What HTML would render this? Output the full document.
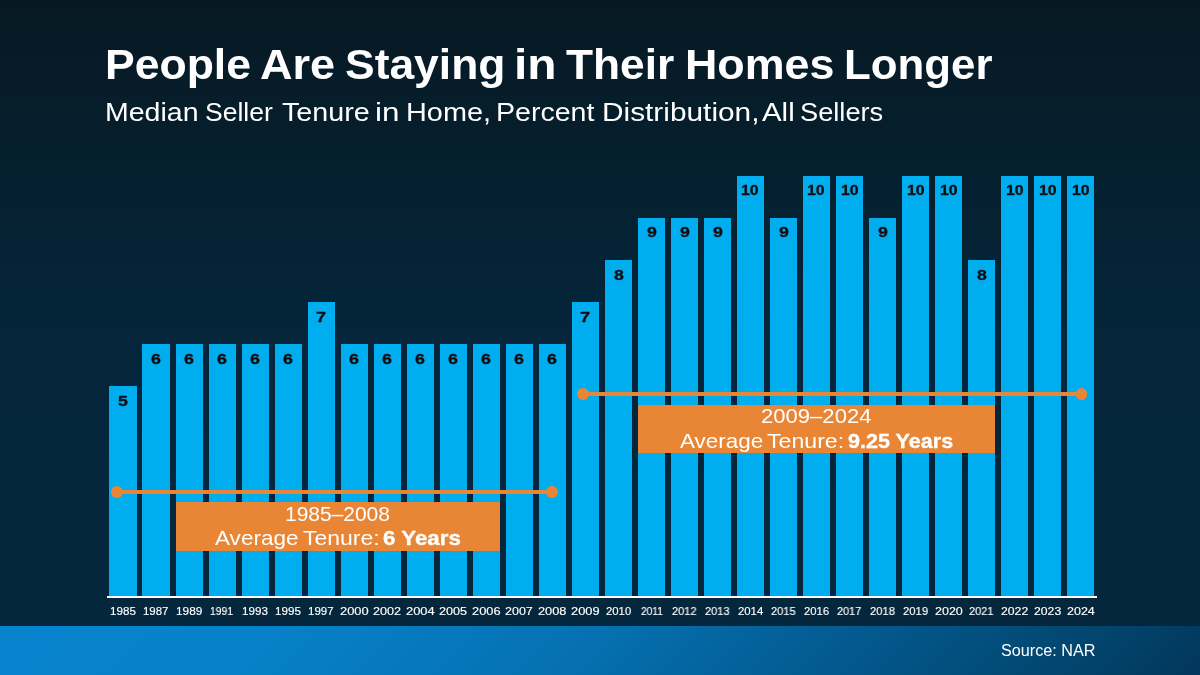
<!DOCTYPE html>
<html lang="en">
<head>
<meta charset="utf-8">
<title>People Are Staying in Their Homes Longer</title>
<style>
html,body{margin:0;padding:0;}
body{width:1200px;height:675px;overflow:hidden;position:relative;
  font-family:"Liberation Sans",sans-serif;
  background:linear-gradient(180deg,#061923 0%,#061e2c 19%,#052233 33%,#04253a 49%,#04273e 75%,#04273f 100%);}
.t{position:absolute;white-space:nowrap;line-height:1;transform-origin:0 0;display:block;will-change:transform;}
h1,p{margin:0;font-size:inherit;font-weight:inherit;}
.bar{position:absolute;background:#00adee;}
.axis{position:absolute;left:107px;top:596px;width:990px;height:2px;background:#fff;}
.ln{position:absolute;height:4px;background:#e98636;}
.dot{position:absolute;width:11.8px;height:11.8px;border-radius:50%;background:#e98636;}
.box{position:absolute;background:#e98636;}
.footer{position:absolute;left:0;top:626px;width:1200px;height:49px;
  background:linear-gradient(135deg,#0783cd 0%,#0781c9 22%,#0571b2 48%,#03598e 70%,#02466f 88%,#03365a 100%);}
</style>
</head>
<body>
<h1><span class="t" style="left:104.86px;top:43.30px;font-size:42.59px;font-weight:700;color:#fff;transform:scaleX(1.0459);">People</span> <span class="t" style="left:260.12px;top:43.30px;font-size:42.59px;font-weight:700;color:#fff;transform:scaleX(1.0576);">Are</span> <span class="t" style="left:345.49px;top:43.30px;font-size:42.59px;font-weight:700;color:#fff;transform:scaleX(1.0432);">Staying</span> <span class="t" style="left:514.33px;top:43.30px;font-size:42.59px;font-weight:700;color:#fff;transform:scaleX(1.1250);">in</span> <span class="t" style="left:566.36px;top:43.30px;font-size:42.59px;font-weight:700;color:#fff;transform:scaleX(1.0402);">Their</span> <span class="t" style="left:684.84px;top:43.30px;font-size:42.59px;font-weight:700;color:#fff;transform:scaleX(1.0526);">Homes</span> <span class="t" style="left:843.81px;top:43.30px;font-size:42.59px;font-weight:700;color:#fff;transform:scaleX(1.0290);">Longer</span></h1>
<p><span class="t" style="left:105.18px;top:99.80px;font-size:25.58px;font-weight:400;color:#fff;transform:scaleX(1.1146);">Median</span> <span class="t" style="left:205.14px;top:99.80px;font-size:25.58px;font-weight:400;color:#fff;transform:scaleX(1.0363);">Seller</span> <span class="t" style="left:281.92px;top:99.80px;font-size:25.58px;font-weight:400;color:#fff;transform:scaleX(1.1218);">Tenure</span> <span class="t" style="left:375.47px;top:99.80px;font-size:25.58px;font-weight:400;color:#fff;transform:scaleX(1.2260);">in</span> <span class="t" style="left:405.96px;top:99.80px;font-size:25.58px;font-weight:400;color:#fff;transform:scaleX(1.1280);">Home,</span> <span class="t" style="left:495.98px;top:99.80px;font-size:25.58px;font-weight:400;color:#fff;transform:scaleX(1.1161);">Percent</span> <span class="t" style="left:601.78px;top:99.80px;font-size:25.58px;font-weight:400;color:#fff;transform:scaleX(1.1662);">Distribution,</span> <span class="t" style="left:762.26px;top:99.80px;font-size:25.58px;font-weight:400;color:#fff;transform:scaleX(1.1490);">All</span> <span class="t" style="left:799.70px;top:99.80px;font-size:25.58px;font-weight:400;color:#fff;transform:scaleX(1.0642);">Sellers</span></p>
<div class="chart">
<div class="bar" style="left:109px;top:386px;width:28px;height:210px"></div><div class="bar" style="left:142px;top:344px;width:28px;height:252px"></div><div class="bar" style="left:176px;top:344px;width:27px;height:252px"></div><div class="bar" style="left:209px;top:344px;width:27px;height:252px"></div><div class="bar" style="left:242px;top:344px;width:27px;height:252px"></div><div class="bar" style="left:275px;top:344px;width:27px;height:252px"></div><div class="bar" style="left:308px;top:302px;width:27px;height:294px"></div><div class="bar" style="left:341px;top:344px;width:27px;height:252px"></div><div class="bar" style="left:374px;top:344px;width:27px;height:252px"></div><div class="bar" style="left:407px;top:344px;width:27px;height:252px"></div><div class="bar" style="left:440px;top:344px;width:27px;height:252px"></div><div class="bar" style="left:473px;top:344px;width:27px;height:252px"></div><div class="bar" style="left:506px;top:344px;width:27px;height:252px"></div><div class="bar" style="left:539px;top:344px;width:27px;height:252px"></div><div class="bar" style="left:572px;top:302px;width:27px;height:294px"></div><div class="bar" style="left:605px;top:260px;width:27px;height:336px"></div><div class="bar" style="left:638px;top:218px;width:27px;height:378px"></div><div class="bar" style="left:671px;top:218px;width:27px;height:378px"></div><div class="bar" style="left:704px;top:218px;width:27px;height:378px"></div><div class="bar" style="left:737px;top:176px;width:27px;height:420px"></div><div class="bar" style="left:770px;top:218px;width:27px;height:378px"></div><div class="bar" style="left:803px;top:176px;width:27px;height:420px"></div><div class="bar" style="left:836px;top:176px;width:27px;height:420px"></div><div class="bar" style="left:869px;top:218px;width:27px;height:378px"></div><div class="bar" style="left:902px;top:176px;width:27px;height:420px"></div><div class="bar" style="left:935px;top:176px;width:27px;height:420px"></div><div class="bar" style="left:968px;top:260px;width:27px;height:336px"></div><div class="bar" style="left:1001px;top:176px;width:27px;height:420px"></div><div class="bar" style="left:1034px;top:176px;width:27px;height:420px"></div><div class="bar" style="left:1067px;top:176px;width:27px;height:420px"></div>
<div class="axis"></div>
<div class="values"><span class="t" style="left:118.09px;top:392.80px;font-size:15.26px;font-weight:700;color:#150d10;transform:scaleX(1.1646);-webkit-text-stroke:0.3px currentColor;">5</span> <span class="t" style="left:151.20px;top:350.80px;font-size:15.26px;font-weight:700;color:#150d10;transform:scaleX(1.1677);-webkit-text-stroke:0.3px currentColor;">6</span> <span class="t" style="left:184.22px;top:350.80px;font-size:15.26px;font-weight:700;color:#150d10;transform:scaleX(1.1677);-webkit-text-stroke:0.3px currentColor;">6</span> <span class="t" style="left:217.24px;top:350.80px;font-size:15.26px;font-weight:700;color:#150d10;transform:scaleX(1.1677);-webkit-text-stroke:0.3px currentColor;">6</span> <span class="t" style="left:250.26px;top:350.80px;font-size:15.26px;font-weight:700;color:#150d10;transform:scaleX(1.1677);-webkit-text-stroke:0.3px currentColor;">6</span> <span class="t" style="left:283.28px;top:350.80px;font-size:15.26px;font-weight:700;color:#150d10;transform:scaleX(1.1677);-webkit-text-stroke:0.3px currentColor;">6</span> <span class="t" style="left:316.22px;top:308.80px;font-size:15.26px;font-weight:700;color:#150d10;transform:scaleX(1.1860);-webkit-text-stroke:0.3px currentColor;">7</span> <span class="t" style="left:349.32px;top:350.80px;font-size:15.26px;font-weight:700;color:#150d10;transform:scaleX(1.1677);-webkit-text-stroke:0.3px currentColor;">6</span> <span class="t" style="left:382.34px;top:350.80px;font-size:15.26px;font-weight:700;color:#150d10;transform:scaleX(1.1677);-webkit-text-stroke:0.3px currentColor;">6</span> <span class="t" style="left:415.36px;top:350.80px;font-size:15.26px;font-weight:700;color:#150d10;transform:scaleX(1.1677);-webkit-text-stroke:0.3px currentColor;">6</span> <span class="t" style="left:448.38px;top:350.80px;font-size:15.26px;font-weight:700;color:#150d10;transform:scaleX(1.1677);-webkit-text-stroke:0.3px currentColor;">6</span> <span class="t" style="left:481.40px;top:350.80px;font-size:15.26px;font-weight:700;color:#150d10;transform:scaleX(1.1677);-webkit-text-stroke:0.3px currentColor;">6</span> <span class="t" style="left:514.42px;top:350.80px;font-size:15.26px;font-weight:700;color:#150d10;transform:scaleX(1.1677);-webkit-text-stroke:0.3px currentColor;">6</span> <span class="t" style="left:547.44px;top:350.80px;font-size:15.26px;font-weight:700;color:#150d10;transform:scaleX(1.1677);-webkit-text-stroke:0.3px currentColor;">6</span> <span class="t" style="left:580.38px;top:308.80px;font-size:15.26px;font-weight:700;color:#150d10;transform:scaleX(1.1860);-webkit-text-stroke:0.3px currentColor;">7</span> <span class="t" style="left:613.50px;top:266.80px;font-size:15.26px;font-weight:700;color:#150d10;transform:scaleX(1.1615);-webkit-text-stroke:0.3px currentColor;">8</span> <span class="t" style="left:646.51px;top:224.40px;font-size:15.26px;font-weight:700;color:#150d10;transform:scaleX(1.1659);-webkit-text-stroke:0.3px currentColor;">9</span> <span class="t" style="left:679.53px;top:224.40px;font-size:15.26px;font-weight:700;color:#150d10;transform:scaleX(1.1659);-webkit-text-stroke:0.3px currentColor;">9</span> <span class="t" style="left:712.55px;top:224.40px;font-size:15.26px;font-weight:700;color:#150d10;transform:scaleX(1.1659);-webkit-text-stroke:0.3px currentColor;">9</span> <span class="t" style="left:741.44px;top:181.80px;font-size:15.26px;font-weight:700;color:#150d10;transform:scaleX(1.0408);-webkit-text-stroke:0.3px currentColor;">10</span> <span class="t" style="left:778.59px;top:224.40px;font-size:15.26px;font-weight:700;color:#150d10;transform:scaleX(1.1659);-webkit-text-stroke:0.3px currentColor;">9</span> <span class="t" style="left:807.48px;top:181.80px;font-size:15.26px;font-weight:700;color:#150d10;transform:scaleX(1.0408);-webkit-text-stroke:0.3px currentColor;">10</span> <span class="t" style="left:840.50px;top:181.80px;font-size:15.26px;font-weight:700;color:#150d10;transform:scaleX(1.0408);-webkit-text-stroke:0.3px currentColor;">10</span> <span class="t" style="left:877.65px;top:224.40px;font-size:15.26px;font-weight:700;color:#150d10;transform:scaleX(1.1659);-webkit-text-stroke:0.3px currentColor;">9</span> <span class="t" style="left:906.54px;top:181.80px;font-size:15.26px;font-weight:700;color:#150d10;transform:scaleX(1.0408);-webkit-text-stroke:0.3px currentColor;">10</span> <span class="t" style="left:939.56px;top:181.80px;font-size:15.26px;font-weight:700;color:#150d10;transform:scaleX(1.0408);-webkit-text-stroke:0.3px currentColor;">10</span> <span class="t" style="left:976.72px;top:266.80px;font-size:15.26px;font-weight:700;color:#150d10;transform:scaleX(1.1615);-webkit-text-stroke:0.3px currentColor;">8</span> <span class="t" style="left:1005.60px;top:181.80px;font-size:15.26px;font-weight:700;color:#150d10;transform:scaleX(1.0408);-webkit-text-stroke:0.3px currentColor;">10</span> <span class="t" style="left:1038.62px;top:181.80px;font-size:15.26px;font-weight:700;color:#150d10;transform:scaleX(1.0408);-webkit-text-stroke:0.3px currentColor;">10</span> <span class="t" style="left:1071.64px;top:181.80px;font-size:15.26px;font-weight:700;color:#150d10;transform:scaleX(1.0408);-webkit-text-stroke:0.3px currentColor;">10</span></div>
<div class="years"><span class="t" style="left:109.76px;top:606.10px;font-size:11.34px;font-weight:400;color:#fff;transform:scaleX(1.0253);-webkit-text-stroke:0.15px currentColor;">1985</span> <span class="t" style="left:143.00px;top:606.10px;font-size:11.34px;font-weight:400;color:#fff;transform:scaleX(1.0108);-webkit-text-stroke:0.15px currentColor;">1987</span> <span class="t" style="left:175.58px;top:606.10px;font-size:11.34px;font-weight:400;color:#fff;transform:scaleX(1.0443);-webkit-text-stroke:0.15px currentColor;">1989</span> <span class="t" style="left:210.36px;top:606.10px;font-size:11.34px;font-weight:400;color:#fff;transform:scaleX(0.9142);-webkit-text-stroke:0.15px currentColor;">1991</span> <span class="t" style="left:241.84px;top:606.10px;font-size:11.34px;font-weight:400;color:#fff;transform:scaleX(1.0266);-webkit-text-stroke:0.15px currentColor;">1993</span> <span class="t" style="left:274.81px;top:606.10px;font-size:11.34px;font-weight:400;color:#fff;transform:scaleX(1.0295);-webkit-text-stroke:0.15px currentColor;">1995</span> <span class="t" style="left:308.04px;top:606.10px;font-size:11.34px;font-weight:400;color:#fff;transform:scaleX(1.0151);-webkit-text-stroke:0.15px currentColor;">1997</span> <span class="t" style="left:339.86px;top:606.10px;font-size:11.34px;font-weight:400;color:#fff;transform:scaleX(1.1348);-webkit-text-stroke:0.15px currentColor;">2000</span> <span class="t" style="left:373.29px;top:606.10px;font-size:11.34px;font-weight:400;color:#fff;transform:scaleX(1.1125);-webkit-text-stroke:0.15px currentColor;">2002</span> <span class="t" style="left:405.80px;top:606.10px;font-size:11.34px;font-weight:400;color:#fff;transform:scaleX(1.1366);-webkit-text-stroke:0.15px currentColor;">2004</span> <span class="t" style="left:439.18px;top:606.10px;font-size:11.34px;font-weight:400;color:#fff;transform:scaleX(1.1153);-webkit-text-stroke:0.15px currentColor;">2005</span> <span class="t" style="left:471.99px;top:606.10px;font-size:11.34px;font-weight:400;color:#fff;transform:scaleX(1.1332);-webkit-text-stroke:0.15px currentColor;">2006</span> <span class="t" style="left:505.42px;top:606.10px;font-size:11.34px;font-weight:400;color:#fff;transform:scaleX(1.1015);-webkit-text-stroke:0.15px currentColor;">2007</span> <span class="t" style="left:538.08px;top:606.10px;font-size:11.34px;font-weight:400;color:#fff;transform:scaleX(1.1282);-webkit-text-stroke:0.15px currentColor;">2008</span> <span class="t" style="left:571.05px;top:606.10px;font-size:11.34px;font-weight:400;color:#fff;transform:scaleX(1.1340);-webkit-text-stroke:0.15px currentColor;">2009</span> <span class="t" style="left:605.79px;top:606.10px;font-size:11.34px;font-weight:400;color:#fff;transform:scaleX(0.9950);-webkit-text-stroke:0.15px currentColor;">2010</span> <span class="t" style="left:640.56px;top:606.10px;font-size:11.34px;font-weight:400;color:#fff;transform:scaleX(0.9004);-webkit-text-stroke:0.15px currentColor;">2011</span> <span class="t" style="left:672.24px;top:606.10px;font-size:11.34px;font-weight:400;color:#fff;transform:scaleX(0.9713);-webkit-text-stroke:0.15px currentColor;">2012</span> <span class="t" style="left:705.16px;top:606.10px;font-size:11.34px;font-weight:400;color:#fff;transform:scaleX(0.9725);-webkit-text-stroke:0.15px currentColor;">2013</span> <span class="t" style="left:737.77px;top:606.10px;font-size:11.34px;font-weight:400;color:#fff;transform:scaleX(0.9976);-webkit-text-stroke:0.15px currentColor;">2014</span> <span class="t" style="left:771.15px;top:606.10px;font-size:11.34px;font-weight:400;color:#fff;transform:scaleX(0.9754);-webkit-text-stroke:0.15px currentColor;">2015</span> <span class="t" style="left:803.96px;top:606.10px;font-size:11.34px;font-weight:400;color:#fff;transform:scaleX(0.9931);-webkit-text-stroke:0.15px currentColor;">2016</span> <span class="t" style="left:837.40px;top:606.10px;font-size:11.34px;font-weight:400;color:#fff;transform:scaleX(0.9613);-webkit-text-stroke:0.15px currentColor;">2017</span> <span class="t" style="left:870.05px;top:606.10px;font-size:11.34px;font-weight:400;color:#fff;transform:scaleX(0.9882);-webkit-text-stroke:0.15px currentColor;">2018</span> <span class="t" style="left:903.02px;top:606.10px;font-size:11.34px;font-weight:400;color:#fff;transform:scaleX(0.9938);-webkit-text-stroke:0.15px currentColor;">2019</span> <span class="t" style="left:934.63px;top:606.10px;font-size:11.34px;font-weight:400;color:#fff;transform:scaleX(1.1019);-webkit-text-stroke:0.15px currentColor;">2020</span> <span class="t" style="left:969.42px;top:606.10px;font-size:11.34px;font-weight:400;color:#fff;transform:scaleX(0.9709);-webkit-text-stroke:0.15px currentColor;">2021</span> <span class="t" style="left:1001.09px;top:606.10px;font-size:11.34px;font-weight:400;color:#fff;transform:scaleX(1.0793);-webkit-text-stroke:0.15px currentColor;">2022</span> <span class="t" style="left:1034.01px;top:606.10px;font-size:11.34px;font-weight:400;color:#fff;transform:scaleX(1.0797);-webkit-text-stroke:0.15px currentColor;">2023</span> <span class="t" style="left:1066.61px;top:606.10px;font-size:11.34px;font-weight:400;color:#fff;transform:scaleX(1.1039);-webkit-text-stroke:0.15px currentColor;">2024</span></div>
<div class="ln" style="left:116.9px;top:490px;width:435.3px"></div><div class="dot" style="left:111.0px;top:486.1px"></div><div class="dot" style="left:546.3px;top:486.1px"></div>
<div class="box" style="left:175.8px;top:502px;width:324.2px;height:49px"></div>
<div class="ln" style="left:582.9px;top:392px;width:498.6px"></div><div class="dot" style="left:577.0px;top:388.1px"></div><div class="dot" style="left:1075.6px;top:388.1px"></div>
<div class="box" style="left:638px;top:405px;width:357px;height:48px"></div>
<div class="notes"><span class="t" style="left:285.16px;top:503.50px;font-size:20.06px;font-weight:400;color:#fff;transform:scaleX(1.0455);">1985–2008</span> <span class="t" style="left:215.16px;top:527.70px;font-size:20.2px;font-weight:400;color:#fff;transform:scaleX(1.1157);">Average</span> <span class="t" style="left:302.85px;top:527.70px;font-size:20.2px;font-weight:400;color:#fff;transform:scaleX(1.1384);">Tenure:</span> <span class="t" style="left:382.89px;top:527.70px;font-size:20.2px;font-weight:700;color:#fff;transform:scaleX(1.1070);-webkit-text-stroke:0.3px currentColor;">6 Years</span> <span class="t" style="left:760.89px;top:406.40px;font-size:20.06px;font-weight:400;color:#fff;transform:scaleX(1.1009);">2009–2024</span> <span class="t" style="left:679.56px;top:430.80px;font-size:20.06px;font-weight:400;color:#fff;transform:scaleX(1.1201);">Average</span> <span class="t" style="left:767.24px;top:430.80px;font-size:20.06px;font-weight:400;color:#fff;transform:scaleX(1.1534);">Tenure:</span> <span class="t" style="left:847.58px;top:430.80px;font-size:20.06px;font-weight:700;color:#fff;transform:scaleX(1.0766);-webkit-text-stroke:0.3px currentColor;">9.25 Years</span></div>
</div>
<div class="footer"></div>
<span class="t" style="left:1000.98px;top:642.00px;font-size:16.13px;font-weight:400;color:#fff;transform:scaleX(1.0051);">Source: NAR</span>
</body>
</html>
